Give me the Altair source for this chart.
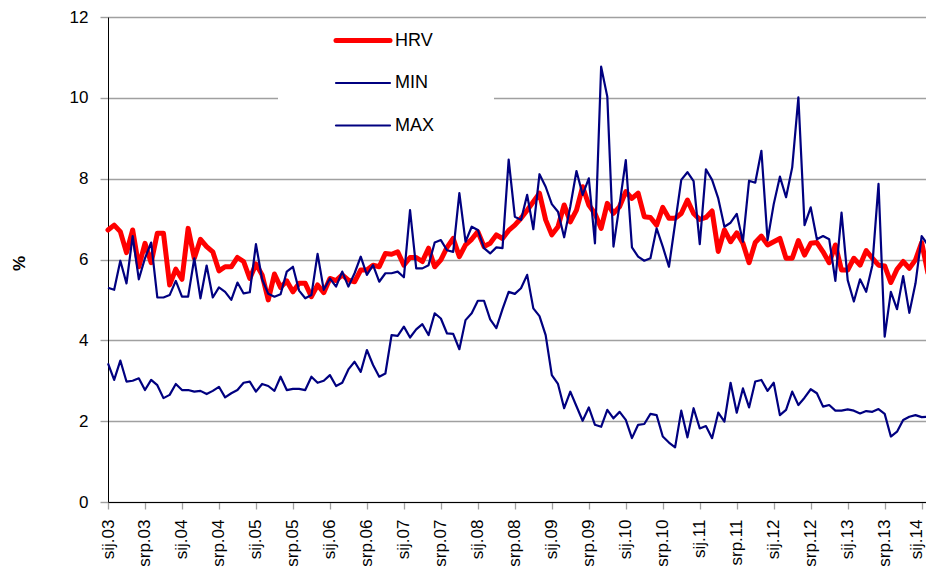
import altair as alt
import pandas as pd

# ---------------- data ----------------
month_abbr = ['sij', 'velj', 'ožu', 'tra', 'svi', 'lip', 'srp', 'kol', 'ruj', 'lis', 'stu', 'pro']
start_year = 2003
n_months = 135
months = [f"{month_abbr[i % 12]}.{(start_year + i // 12) % 100:02d}" for i in range(n_months)]
tick_labels = [m for m in months if m.split('.')[0] in ('sij', 'srp')]

hrv = [6.73, 6.85, 6.69, 6.17, 6.73, 5.82, 6.40, 5.92, 6.65, 6.65,
       5.37, 5.76, 5.51, 6.77, 6.03, 6.50, 6.32, 6.19, 5.72, 5.82,
       5.82, 6.05, 5.95, 5.53, 5.89, 5.62, 5.00, 5.64, 5.31, 5.47,
       5.20, 5.41, 5.41, 5.08, 5.37, 5.18, 5.53, 5.48, 5.62, 5.49,
       5.45, 5.74, 5.74, 5.86, 5.82, 6.15, 6.13, 6.19, 5.86, 6.05,
       6.05, 5.95, 6.28, 5.82, 5.99, 6.30, 6.52, 6.07, 6.36, 6.50,
       6.69, 6.32, 6.40, 6.61, 6.52, 6.72, 6.85, 7.02, 7.22, 7.43,
       7.64, 6.98, 6.61, 6.81, 7.35, 6.93, 7.22, 7.80, 7.35, 7.14,
       6.77, 7.39, 7.14, 7.31, 7.68, 7.51, 7.64, 7.06, 7.04, 6.85,
       7.29, 7.02, 7.02, 7.14, 7.47, 7.14, 6.99, 7.04, 7.20, 6.20,
       6.73, 6.44, 6.66, 6.40, 5.92, 6.42, 6.58, 6.36, 6.44, 6.52,
       6.03, 6.03, 6.47, 6.11, 6.40, 6.42, 6.19, 5.92, 6.36, 5.74,
       5.74, 6.03, 5.86, 6.22, 6.03, 5.86, 5.84, 5.43, 5.76, 5.95,
       5.78, 5.99, 6.42, 5.67, 5.53]

mn = [3.43, 3.02, 3.50, 2.98, 3.00, 3.06, 2.77, 3.02, 2.89, 2.57,
      2.65, 2.92, 2.77, 2.77, 2.73, 2.75, 2.67, 2.75, 2.85, 2.59,
      2.69, 2.77, 2.95, 2.98, 2.73, 2.92, 2.87, 2.75, 3.10, 2.77,
      2.80, 2.80, 2.77, 3.10, 2.95, 3.00, 3.14, 2.87, 2.95, 3.28,
      3.47, 3.22, 3.76, 3.39, 3.10, 3.18, 4.13, 4.11, 4.34, 4.07,
      4.27, 4.40, 4.13, 4.67, 4.54, 4.17, 4.16, 3.78, 4.50, 4.67,
      4.98, 4.98, 4.52, 4.30, 4.77, 5.20, 5.15, 5.29, 5.62, 4.79,
      4.60, 4.13, 3.14, 2.92, 2.32, 2.73, 2.37, 2.01, 2.34, 1.91,
      1.86, 2.28, 2.07, 2.23, 2.03, 1.58, 1.91, 1.93, 2.18, 2.15,
      1.62, 1.47, 1.35, 2.26, 1.60, 2.32, 1.82, 1.88, 1.58, 2.21,
      1.99, 2.95, 2.21, 2.81, 2.34, 2.98, 3.02, 2.75, 2.95, 2.15,
      2.28, 2.73, 2.40, 2.58, 2.79, 2.69, 2.36, 2.40, 2.26, 2.26,
      2.29, 2.26, 2.19, 2.25, 2.23, 2.30, 2.18, 1.62, 1.74, 2.03,
      2.11, 2.15, 2.10, 2.11, 2.10]

mx = [5.30, 5.25, 5.97, 5.41, 6.58, 5.51, 6.03, 6.42, 5.06, 5.06,
      5.12, 5.47, 5.08, 5.08, 6.03, 5.04, 5.85, 5.06, 5.31, 5.20,
      5.00, 5.43, 5.16, 5.19, 6.38, 5.51, 5.15, 5.08, 5.14, 5.70,
      5.82, 5.23, 5.04, 5.12, 6.14, 5.25, 5.53, 5.33, 5.70, 5.33,
      5.66, 6.07, 5.62, 5.86, 5.45, 5.66, 5.66, 5.70, 5.56, 7.22,
      5.78, 5.78, 5.86, 6.42, 6.48, 6.23, 6.19, 7.64, 6.44, 6.81,
      6.73, 6.28, 6.15, 6.30, 6.28, 8.47, 7.06, 6.98, 7.60, 6.75,
      8.11, 7.80, 7.37, 7.18, 6.55, 7.31, 8.19, 7.60, 8.01, 6.40,
      10.77, 10.03, 6.32, 7.37, 8.46, 6.30, 6.07, 5.97, 6.03, 6.77,
      6.32, 5.82, 6.89, 7.97, 8.16, 7.94, 6.38, 8.23, 7.97, 7.51,
      6.81, 6.91, 7.13, 6.44, 7.95, 7.90, 8.69, 6.48, 7.37, 8.05,
      7.54, 8.28, 10.01, 6.85, 7.29, 6.50, 6.58, 6.50, 5.47, 7.16,
      5.49, 4.96, 5.51, 5.20, 5.86, 7.87, 4.09, 5.20, 4.77, 5.59,
      4.68, 5.41, 6.58, 6.36, 7.47]

series_names = ['HRV', 'MIN', 'MAX']
y_ticks = [0, 2, 4, 6, 8, 10, 12]

# ---------------- styling ----------------
FONT = 'Liberation Sans'
W, H = 818, 485          # visible plot area (page is 934 wide)
X_RANGE = 826            # full span of the month axis (last months run off the edge)
RED = '#ff0000'
NAVY = '#000080'
GRID = '#a0a0a0'

df = pd.DataFrame({
    'month': months * 3,
    'series': ['HRV'] * n_months + ['MIN'] * n_months + ['MAX'] * n_months,
    'value': hrv + mn + mx,
})

last_label = tick_labels[-1]
x_enc = alt.X('month:N', sort=months,
              scale=alt.Scale(type='point', padding=0, range=[0, X_RANGE]),
              axis=alt.Axis(values=tick_labels, labelAngle=-90, labelFontSize=17,
                            labelFont=FONT, labelColor='black', labelPadding=10,
                            labelOffset={'condition': {'test': f"datum.value === '{last_label}'",
                                                       'value': -5},
                                         'value': 0},
                            tickSize=7, tickColor=GRID, tickWidth=1.3,
                            domainColor='black', domainWidth=1, grid=False,
                            title=None, zindex=1))
y_enc = alt.Y('value:Q', scale=alt.Scale(domain=[0, 12], nice=False),
              axis=alt.Axis(values=y_ticks, grid=True, gridColor=GRID, gridWidth=1.4,
                            tickColor=GRID, tickSize=8, tickWidth=1.4,
                            labelFontSize=17, labelFont=FONT, labelColor='black',
                            labelPadding=12, domainColor='black', domainWidth=1,
                            title='%', titleFont=FONT, titleFontSize=17,
                            titleFontWeight='bold', titleColor='black',
                            titleAngle=-90, titleX=-89, titleY=246,
                            titleBaseline='middle', titleAlign='center'))

base = alt.Chart(df).encode(x=x_enc, y=y_enc)

hrv_line = base.transform_filter("datum.series == 'HRV'").mark_line(
    color=RED, strokeWidth=5, strokeJoin='round', strokeCap='round')
band_lines = base.transform_filter("datum.series != 'HRV'").mark_line(
    color=NAVY, strokeWidth=2.2, strokeJoin='round').encode(detail='series:N')

# ---------------- legend (decoration) ----------------
legend_bg = alt.Chart(pd.DataFrame({'k': [0]})).mark_rect(color='white').encode(
    x=alt.value(170), x2=alt.value(386), y=alt.value(4), y2=alt.value(130))

legend_rows = [23.5, 66, 108.5]
legend_colors = [RED, NAVY, NAVY]
legend_widths = [5, 2.2, 2.2]
legend_layers = []
for name, yy, col, sw in zip(series_names, legend_rows, legend_colors, legend_widths):
    ldf = pd.DataFrame({'name': [name]})
    legend_layers.append(
        alt.Chart(ldf).mark_rule(color=col, strokeWidth=sw, strokeCap='round').encode(
            x=alt.value(228), x2=alt.value(282), y=alt.value(yy)))
    legend_layers.append(
        alt.Chart(ldf).mark_text(align='left', baseline='middle', fontSize=18,
                                 font=FONT, color='black').encode(
            x=alt.value(287), y=alt.value(yy), text='name:N'))

chart = alt.layer(hrv_line, band_lines, legend_bg, *legend_layers).properties(
    width=W, height=H,
    autosize=alt.AutoSizeParams(type='none'),
    padding={'left': 100, 'top': 9, 'right': 0, 'bottom': 67},
).configure_view(stroke=None).configure(background='white')

chart.save("out.html", embed_options={"renderer": "svg", "actions": False})
